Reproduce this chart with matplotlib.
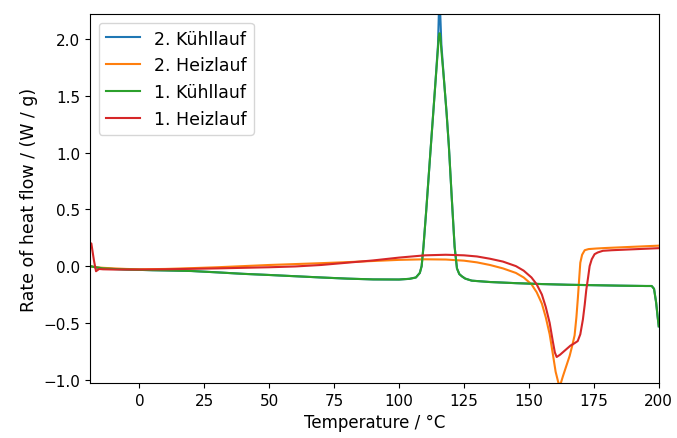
import matplotlib.pyplot as plt

# 1. Kühllauf (cooling run 1)
t_cool1 = [-19, -17, -14, -10, -5, 0, 5, 10, 20, 30, 40, 50, 60, 70, 80, 90, 100, 104,
           106.5, 108, 108.7, 109.4, 110.5, 112, 113.9, 115, 115.3, 115.6, 115.9, 116.3,
           117.3, 118.3, 119.2, 120.3, 121.4, 122.3, 123.2, 124.2, 125.5, 128, 135, 145,
           155, 165, 175, 185, 195, 197.3, 198.2, 199, 199.6, 200]
q_cool1 = [0.0, -0.01, -0.02, -0.025, -0.03, -0.033, -0.036, -0.038, -0.043, -0.055,
           -0.068, -0.078, -0.089, -0.1, -0.11, -0.117, -0.118, -0.112, -0.1, -0.06, 0.0,
           0.17, 0.5, 0.98, 1.58, 1.92, 2.02, 2.05, 2.02, 1.9, 1.64, 1.35, 1.05, 0.6, 0.17,
           -0.02, -0.07, -0.09, -0.11, -0.128, -0.14, -0.15, -0.158, -0.164, -0.168,
           -0.172, -0.175, -0.175, -0.2, -0.32, -0.45, -0.53]

# 2. Kühllauf (cooling run 2)
t_cool2 = [-19, -17, -14, -10, -5, 0, 5, 10, 20, 30, 40, 50, 60, 70, 80, 90, 100, 104,
           106.5, 108, 108.7, 109.4, 110.5, 112, 113.9, 115, 115.3, 115.6, 115.9, 116.3,
           117.3, 118.3, 119.2, 120.3, 121.4, 122.3, 123.2, 124.2, 125.5, 128, 135, 145,
           155, 165, 175, 185, 195, 197.3, 198.2, 199, 199.6, 200]
q_cool2 = [0.0, -0.01, -0.02, -0.025, -0.03, -0.033, -0.036, -0.038, -0.043, -0.055,
           -0.068, -0.078, -0.089, -0.1, -0.11, -0.117, -0.118, -0.112, -0.1, -0.06, 0.0,
           0.17, 0.5, 0.98, 1.58, 1.95, 2.2, 2.38, 2.2, 1.95, 1.64, 1.35, 1.05, 0.6, 0.17,
           -0.02, -0.07, -0.09, -0.11, -0.128, -0.14, -0.15, -0.158, -0.164, -0.168,
           -0.172, -0.175, -0.175, -0.2, -0.32, -0.45, -0.53]

# 2. Heizlauf (heating run 2)
t_heat2 = [-19, -17, -14, -10, -5, 0, 10, 20, 30, 40, 50, 60, 70, 80, 90, 100, 110, 118,
           125, 130, 135, 140, 145, 148, 151, 153, 155, 156.5, 158, 159.2, 160.3, 161.5,
           162.3, 163.1, 164.4, 165.7, 166.7, 167.6, 168.3, 168.9, 169.4, 169.8, 170.5,
           171.5, 173, 176, 180, 190, 200]
q_heat2 = [0.0, -0.01, -0.015, -0.02, -0.025, -0.028, -0.025, -0.018, -0.01, 0.0, 0.01,
           0.018, 0.026, 0.035, 0.045, 0.055, 0.06, 0.058, 0.048, 0.033, 0.01, -0.02, -0.06,
           -0.1, -0.16, -0.23, -0.33, -0.45, -0.6, -0.77, -0.93, -1.04, -1.03, -0.97, -0.88,
           -0.79, -0.7, -0.61, -0.45, -0.27, -0.1, 0.03, 0.1, 0.14, 0.15, 0.155, 0.16, 0.17,
           0.18]

# 1. Heizlauf (heating run 1)
t_heat1 = [-19.2, -18.5, -17.5, -16.7, -15.5, -14, -10, -5, 0, 10, 20, 30, 40, 50, 60, 70,
           80, 90, 100, 110, 118, 125, 130, 135, 140, 145, 148, 151, 153, 155, 156.5, 158,
           159.2, 160, 160.7, 162, 164, 166, 167.5, 168.8, 169.8, 170.8, 171.5, 172.1, 172.8,
           173.4, 174.2, 175.3, 176.5, 178.5, 182, 190, 200]
q_heat1 = [0.16, 0.2, 0.05, -0.045, -0.025, -0.028, -0.03, -0.03, -0.03, -0.028, -0.024,
           -0.02, -0.015, -0.01, -0.003, 0.01, 0.03, 0.05, 0.075, 0.095, 0.1, 0.095, 0.085,
           0.065, 0.04, 0.0, -0.04, -0.1, -0.16, -0.25, -0.36, -0.5, -0.66, -0.76, -0.8,
           -0.78, -0.74, -0.7, -0.68, -0.66, -0.6, -0.47, -0.34, -0.21, -0.1, 0.0, 0.06,
           0.105, 0.12, 0.135, 0.14, 0.148, 0.158]

fig = plt.figure(figsize=(6.77, 4.39), dpi=100)
ax = fig.add_axes([0.133, 0.125, 0.84, 0.841])

ax.plot(t_cool2, q_cool2, label="2. Kühllauf")
ax.plot(t_heat2, q_heat2, label="2. Heizlauf")
ax.plot(t_cool1, q_cool1, label="1. Kühllauf")
ax.plot(t_heat1, q_heat1, label="1. Heizlauf")

ax.set_xlim(-19, 200)
ax.set_ylim(-1.03, 2.22)
ax.tick_params(labelsize=11)
ax.set_xlabel("Temperature / °C", fontsize=12)
ax.set_ylabel("Rate of heat flow / (W / g)", fontsize=12.5)
ax.legend(loc="upper left", fontsize=12.5)

plt.savefig("out.png", dpi=100)
